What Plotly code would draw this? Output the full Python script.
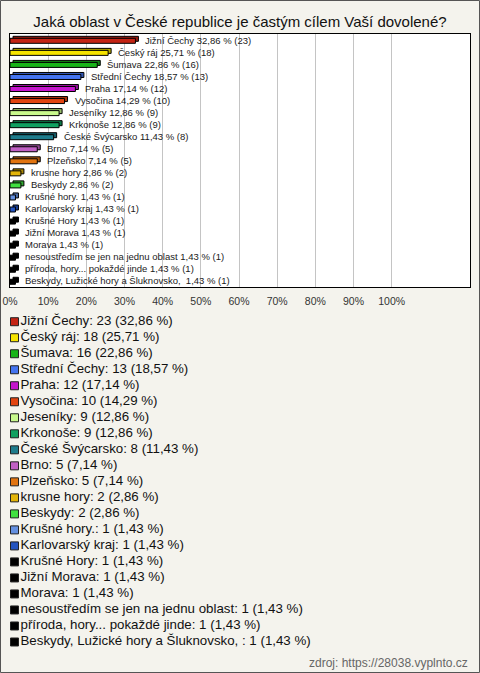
import plotly.graph_objects as go

# ---------------- data ----------------
categories = [
    "Jižní Čechy", "Český ráj", "Šumava", "Střední Čechy", "Praha", "Vysočina",
    "Jeseníky", "Krkonoše", "České Švýcarsko", "Brno", "Plzeňsko", "krusne hory",
    "Beskydy", "Krušné hory.", "Karlovarský kraj", "Krušné Hory", "Jižní Morava",
    "Morava", "nesoustředím se jen na jednu oblast", "příroda, hory... pokaždé jinde",
    "Beskydy, Lužické hory a Šluknovsko, ",
]
counts = [23, 18, 16, 13, 12, 10, 9, 9, 8, 5, 5, 2, 2, 1, 1, 1, 1, 1, 1, 1, 1]
percents = [32.86, 25.71, 22.86, 18.57, 17.14, 14.29, 12.86, 12.86, 11.43, 7.14, 7.14,
            2.86, 2.86, 1.43, 1.43, 1.43, 1.43, 1.43, 1.43, 1.43, 1.43]
x_ticks = [0, 10, 20, 30, 40, 50, 60, 70, 80, 90, 100]
x_tick_labels = ["0%", "10%", "20%", "30%", "40%", "50%", "60%", "70%", "80%", "90%", "100%"]

colors = [
    "#c42414", "#f6e400", "#18b418", "#4474f0", "#c416cc", "#e24410",
    "#c8f88c", "#10a060", "#1e7c8c", "#c060c4", "#e27410", "#e2b408",
    "#40e040", "#6490e0", "#2454c0", "#000000", "#000000", "#000000",
    "#000000", "#000000", "#000000",
]

TITLE = "Jaká oblast v České republice je častým cílem Vaší dovolené?"
SOURCE = "zdroj: https://28038.vyplnto.cz"

W, H = 480, 673
ML, MR, MT, MB = 10, 10, 34, 23
PW, PH = W - ML - MR, H - MT - MB
BG = "#f4f3ed"
FONT = "Liberation Sans, Arial, sans-serif"


def darker(hexc, f=0.7):
    h = hexc.lstrip("#")
    r, g, b = (int(h[i:i + 2], 16) for i in (0, 2, 4))
    return "#%02x%02x%02x" % (int(r * f), int(g * f), int(b * f))


def fmt(v):
    return ("%.2f" % v).replace(".", ",")


n = len(categories)
bar_labels = [f"{c} {fmt(p)} % ({k})" for c, p, k in zip(categories, percents, counts)]
legend_labels = [f"{c}: {k} ({fmt(p)} %)" for c, p, k in zip(categories, percents, counts)]

# ---------------- figure ----------------
fig = go.Figure()

row_px = 253 / n  # pixel height of one category row
w_front = 5.0 / row_px
off_front = -w_front / 2 + 0.8 / row_px
off_back = off_front - 2.0 / row_px
px_per_pct = 3.817

# back (3D depth) bars
fig.add_trace(go.Bar(
    y=categories, x=percents, base=3.0 / px_per_pct, orientation="h",
    width=w_front, offset=off_back,
    marker=dict(color=[darker(c, 0.75) for c in colors], line=dict(color="#000000", width=1)),
    hoverinfo="skip", showlegend=False, xaxis="x", yaxis="y",
))
# front bars
fig.add_trace(go.Bar(
    y=categories, x=percents, orientation="h",
    width=w_front, offset=off_front,
    marker=dict(color=colors, line=dict(color="#000000", width=1)),
    showlegend=False, xaxis="x", yaxis="y",
))

# legend drawn as a scatter on its own axes
fig.add_trace(go.Scatter(
    x=[0] * n, y=categories, mode="markers+text",
    marker=dict(symbol="square", size=8, color=colors, line=dict(color="#222222", width=1)),
    text=legend_labels, textposition="middle right",
    textfont=dict(family=FONT, size=13.3, color="#111111"),
    cliponaxis=False, showlegend=False, hoverinfo="skip",
    xaxis="x2", yaxis="y2",
))

annotations = []
for cat, p, lab in zip(categories, percents, bar_labels):
    annotations.append(dict(
        x=p, y=cat, xref="x", yref="y", text=lab, showarrow=False,
        xanchor="left", yanchor="middle", xshift=8,
        font=dict(family=FONT, size=9.5, color="#1a1a1a"),
    ))
annotations.append(dict(
    x=1, y=-(663 - (H - MB)) / PH, xref="paper", yref="paper",
    text=SOURCE, showarrow=False, xanchor="right", yanchor="middle",
    font=dict(family=FONT, size=12, color="#666666"),
))

main_bottom = (H - MB - 287) / PH
leg_top = (H - MB - 313.7) / PH

shapes = [
    dict(type="rect", xref="x domain", yref="y domain", x0=0, x1=1, y0=0, y1=1,
         fillcolor="white", line=dict(width=0), layer="below"),
    dict(type="rect", xref="paper", yref="paper",
         x0=(0.5 - ML) / PW, x1=(W - 0.5 - ML) / PW,
         y0=(H - MB - (H - 0.5)) / PH, y1=(H - MB - 0.5) / PH,
         line=dict(color="#555555", width=1), fillcolor="rgba(0,0,0,0)", layer="above"),
]

fig.update_layout(
    width=W, height=H,
    margin=dict(l=ML, r=MR, t=MT, b=MB, pad=0, autoexpand=False),
    paper_bgcolor=BG, plot_bgcolor=BG,
    barmode="overlay",
    title=dict(text=TITLE, x=0.5, xanchor="center", xref="paper",
               y=1 - 21.5 / H, yanchor="middle", yref="container", automargin=False,
               font=dict(family=FONT, size=15, color="#111111")),
    xaxis=dict(domain=[0, 1], range=[0, PW / px_per_pct], tickmode="array",
               tickvals=x_ticks, ticktext=x_tick_labels, automargin=False,
               showgrid=True, gridcolor="#c4c4c4", gridwidth=1,
               zeroline=False, showline=True, mirror=True, linecolor="#000000", linewidth=1,
               ticks="outside", ticklen=4, tickcolor="rgba(0,0,0,0)",
               tickfont=dict(family=FONT, size=10.5, color="#333333"), anchor="y"),
    yaxis=dict(domain=[main_bottom, 1], categoryorder="array", categoryarray=categories,
               range=[n - 0.5, -0.5], showticklabels=False, showgrid=False, zeroline=False,
               automargin=False,
               showline=True, mirror=True, linecolor="#000000", linewidth=1, anchor="x"),
    xaxis2=dict(domain=[0, 1], range=[-4.5, PW - 4.5], visible=False, anchor="y2", automargin=False),
    yaxis2=dict(domain=[0, leg_top], categoryorder="array", categoryarray=categories,
                range=[n - 0.5, -0.5], visible=False, anchor="x2", automargin=False),
    annotations=annotations,
    shapes=shapes,
    hovermode=False,
)

fig.write_html("out.html", config={"displayModeBar": False},
               post_script="document.body.style.margin='0';document.body.style.overflow='hidden';")
